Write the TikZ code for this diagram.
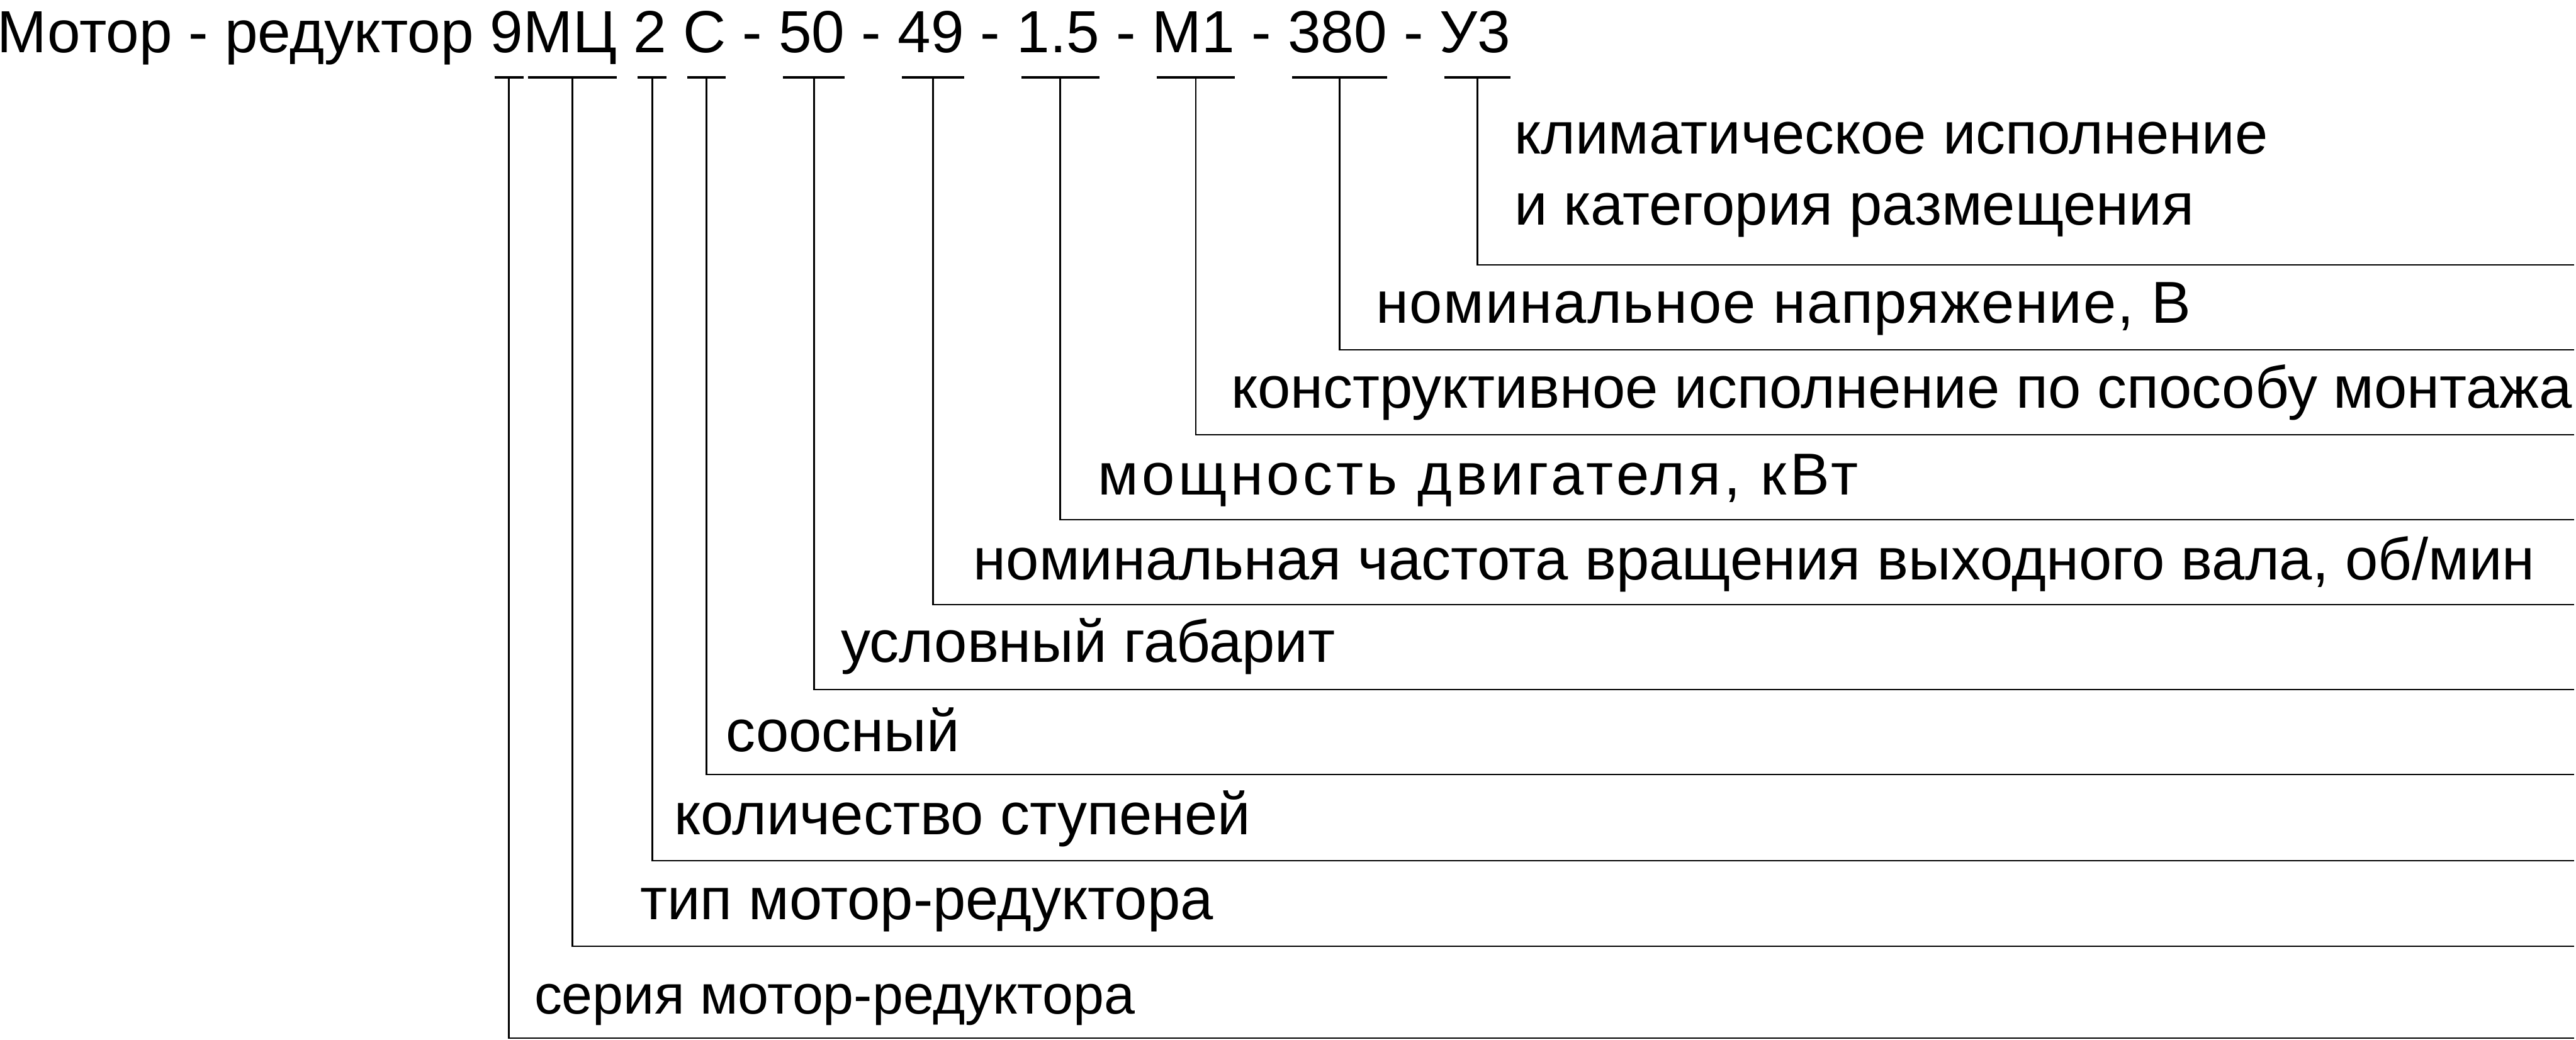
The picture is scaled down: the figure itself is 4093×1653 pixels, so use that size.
\documentclass[tikz,border=0pt]{standalone}
\usepackage{fontspec}
\setmainfont{Liberation Sans}
\usetikzlibrary{calc}
\begin{document}
\begin{tikzpicture}[x=0.1pt,y=-0.1pt,
  code/.style={inner sep=0pt,outer sep=0pt,anchor=base west,font=\fontsize{9.45}{11}\selectfont},
  lab/.style={inner sep=0pt,outer sep=0pt,anchor=base west,font=\fontsize{9.4}{11}\selectfont},
  ln/.style={line width=0.28pt,black},
  ul/.style={line width=0.34pt,black}]
\useasboundingbox (0,0) rectangle (4093,1653);
% title
\node[code] (t0) at (-4,84) {Мотор - редуктор\ \hbox{}};
\node[code] (c1) at (t0.base east) {9};
\node[code] (c2) at (c1.base east) {МЦ};
\node[code] (g2) at (c2.base east) {\hbox{}\ \hbox{}};
\node[code] (c3) at (g2.base east) {2};
\node[code] (g3) at (c3.base east) {\hbox{}\ \hbox{}};
\node[code] (c4) at (g3.base east) {С};
\node[code] (g4) at (c4.base east) {\hbox{}\ -\ \hbox{}};
\node[code] (c5) at (g4.base east) {50};
\node[code] (g5) at (c5.base east) {\hbox{}\ -\ \hbox{}};
\node[code] (c6) at (g5.base east) {49};
\node[code] (g6) at (c6.base east) {\hbox{}\ -\ \hbox{}};
\node[code] (c7) at (g6.base east) {1.5};
\node[code] (g7) at (c7.base east) {\hbox{}\ -\ \hbox{}};
\node[code] (c8) at (g7.base east) {М1};
\node[code] (g8) at (c8.base east) {\hbox{}\ -\ \hbox{}};
\node[code] (c9) at (g8.base east) {380};
\node[code] (g9) at (c9.base east) {\hbox{}\ -\ \hbox{}};
\node[code] (c10) at (g9.base east) {У3};
% underlines and their midpoints
\foreach \i in {1,...,10}{
  \coordinate (ua\i) at ($(c\i.base west)+(7,39)$);
  \coordinate (ub\i) at ($(c\i.base east)+(0,39)$);
  \coordinate (u\i) at ($(ua\i)!0.5!(ub\i)$);
  \draw[ul] (ua\i) -- (ub\i);
}
% right ends of the leader lines
\coordinate (r10) at (4090,421);
\coordinate (r9) at (4090,556);
\coordinate (r8) at (4090,691);
\coordinate (r7) at (4090,826);
\coordinate (r6) at (4090,961);
\coordinate (r5) at (4090,1096);
\coordinate (r4) at (4090,1231);
\coordinate (r3) at (4090,1368);
\coordinate (r2) at (4090,1504);
\coordinate (r1) at (4090,1650);
\foreach \i in {1,...,10}{
  \draw[ln] (u\i) |- (r\i);
}
% labels
\node[lab] (l10a) at (2406,245) {климатическое исполнение};
\node[lab] (l10b) at (2406,358) {и категория размещения};
\node[lab] (l9) at (2186,514) {\addfontfeatures{LetterSpace=1.9}номинальное напряжение, В};
\node[lab] (l8) at (1956,649) {конструктивное исполнение по способу монтажа};
\node[lab] (l7) at (1744,787) {\addfontfeatures{LetterSpace=6}мощность двигателя, кВт};
\node[lab] (l6) at (1547,922) {номинальная частота вращения выходного вала, об/мин};
\node[lab] (l5) at (1336,1053) {условный габарит};
\node[lab] (l4) at (1153,1195) {соосный};
\node[lab] (l3) at (1071,1327) {количество ступеней};
\node[lab] (l2) at (1017,1462) {тип мотор-редуктора};
\node[lab,font=\fontsize{8.8}{11}\selectfont] (l1) at (849,1612) {серия мотор-редуктора};
\end{tikzpicture}
\end{document}
